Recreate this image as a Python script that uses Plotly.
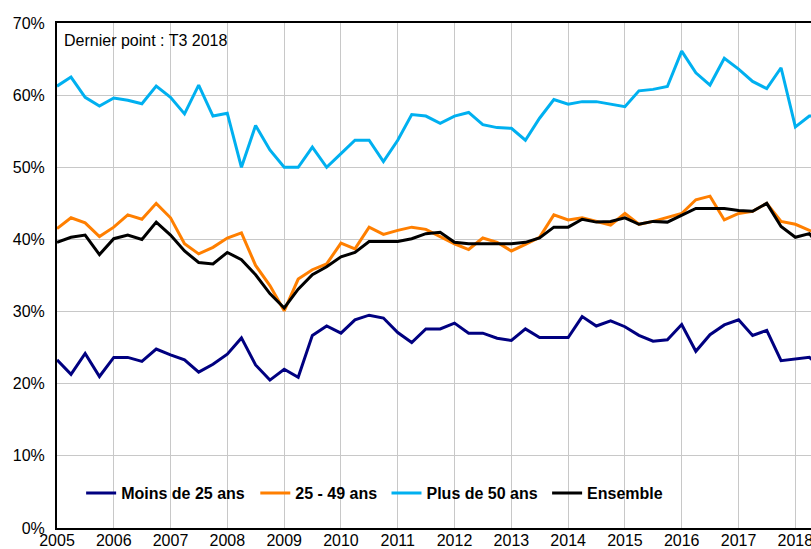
import pandas as pd
import plotly.graph_objects as go

# trimestres T1 2005 -> T3 2018
trimestres = pd.period_range("2005Q1", "2018Q3", freq="Q").start_time

moins_25 = [23.3, 21.3, 24.2, 21.0, 23.65, 23.65, 23.1, 24.8, 24.0, 23.3, 21.6, 22.7,
            24.1, 26.35, 22.6, 20.5, 22.0, 20.9, 26.7, 28.0, 27.0, 28.85, 29.5, 29.1,
            27.1, 25.7, 27.6, 27.6, 28.4, 27.0, 27.0, 26.3, 26.0, 27.6, 26.4, 26.4,
            26.4, 29.3, 28.0, 28.7, 27.9, 26.7, 25.9, 26.1, 28.2, 24.5, 26.8, 28.15,
            28.85, 26.7, 27.4, 23.2, 23.4, 23.65, 22.0]
de_25_49 = [41.5, 43.0, 42.3, 40.4, 41.7, 43.4, 42.8, 45.0, 43.0, 39.4, 38.0, 38.9,
            40.2, 40.9, 36.4, 33.6, 30.1, 34.5, 35.8, 36.6, 39.5, 38.7, 41.7, 40.7,
            41.25, 41.7, 41.4, 40.4, 39.4, 38.6, 40.2, 39.6, 38.4, 39.3, 40.3, 43.4,
            42.7, 43.0, 42.5, 42.0, 43.6, 42.1, 42.5, 43.0, 43.6, 45.5, 46.0, 42.7,
            43.6, 43.9, 45.0, 42.5, 42.1, 41.25, 40.9]
plus_50 = [61.25, 62.5, 59.7, 58.5, 59.6, 59.3, 58.8, 61.25, 59.7, 57.4, 61.4, 57.1,
           57.5, 50.0, 55.8, 52.4, 50.0, 50.0, 52.8, 50.0, 51.9, 53.75, 53.75, 50.8,
           53.75, 57.3, 57.1, 56.1, 57.1, 57.6, 55.9, 55.5, 55.4, 53.75, 56.8, 59.4,
           58.75, 59.1, 59.1, 58.75, 58.4, 60.6, 60.8, 61.2, 66.1, 63.1, 61.4, 65.1,
           63.6, 61.9, 60.9, 63.8, 55.6, 57.1, 57.2]
ensemble = [39.6, 40.3, 40.6, 37.9, 40.1, 40.6, 40.0, 42.4, 40.6, 38.4, 36.8, 36.6,
            38.2, 37.2, 35.1, 32.5, 30.5, 33.1, 35.1, 36.2, 37.6, 38.2, 39.7, 39.7,
            39.7, 40.1, 40.8, 41.0, 39.6, 39.4, 39.4, 39.3, 39.4, 39.6, 40.2, 41.7,
            41.7, 42.8, 42.4, 42.5, 43.0, 42.1, 42.5, 42.4, 43.4, 44.3, 44.3, 44.3,
            44.0, 43.9, 45.0, 41.8, 40.3, 40.8, 38.5]

series = [
    ("Moins de 25 ans", moins_25, "#000080", "legend"),
    ("25 - 49 ans", de_25_49, "#FF7F00", "legend2"),
    ("Plus de 50 ans", plus_50, "#00B0F0", "legend3"),
    ("Ensemble", ensemble, "#000000", "legend4"),
]

fig = go.Figure()
for nom, valeurs, couleur, leg in series:
    fig.add_trace(go.Scatter(x=trimestres, y=valeurs, name=nom, mode="lines",
                             line=dict(color=couleur, width=3), legend=leg))

# la figure déborde un peu à droite de la fenêtre (graphique coupé comme l'original)
W = 840
plot_w = W - 57
police = dict(family="Liberation Sans, Arial", size=16, color="black")
leg_style = dict(orientation="h", yanchor="middle", y=0.069, xanchor="left",
                 bgcolor="rgba(0,0,0,0)", font=dict(police, weight="bold"),
                 itemwidth=30, tracegroupgap=0)

fig.update_layout(
    width=W, height=549,
    margin=dict(l=57, r=0, t=23, b=21),
    plot_bgcolor="white", paper_bgcolor="white",
    font=police,
    showlegend=True,
    legend=dict(leg_style, x=0.032 * 754 / plot_w),
    legend2=dict(leg_style, x=0.263 * 754 / plot_w),
    legend3=dict(leg_style, x=0.437 * 754 / plot_w),
    legend4=dict(leg_style, x=0.650 * 754 / plot_w),
    annotations=[dict(text="Dernier point : T3 2018", xref="paper", yref="paper",
                      x=0.0065 * 754 / plot_w, y=0.966, xanchor="left", yanchor="middle",
                      showarrow=False, font=police)],
)
fig.update_xaxes(type="date", range=["2005-01-01", "2018-10-15"],
                 dtick="M12", tick0="2005-01-01", tickformat="%Y",
                 showgrid=True, gridcolor="#C8C8C8", gridwidth=1,
                 showline=True, linecolor="black", linewidth=2, mirror=True,
                 ticks="", tickfont=police, ticklabelstandoff=-3)
fig.update_yaxes(range=[0, 70], dtick=10, ticksuffix="%",
                 showgrid=True, gridcolor="#C8C8C8", gridwidth=1,
                 showline=True, linecolor="black", linewidth=2,
                 zeroline=False, ticks="", tickfont=police, ticklabelstandoff=7)

fig.write_html("out.html", config={"displayModeBar": False},
               post_script="document.body.style.margin='0';document.body.style.overflow='hidden';")
